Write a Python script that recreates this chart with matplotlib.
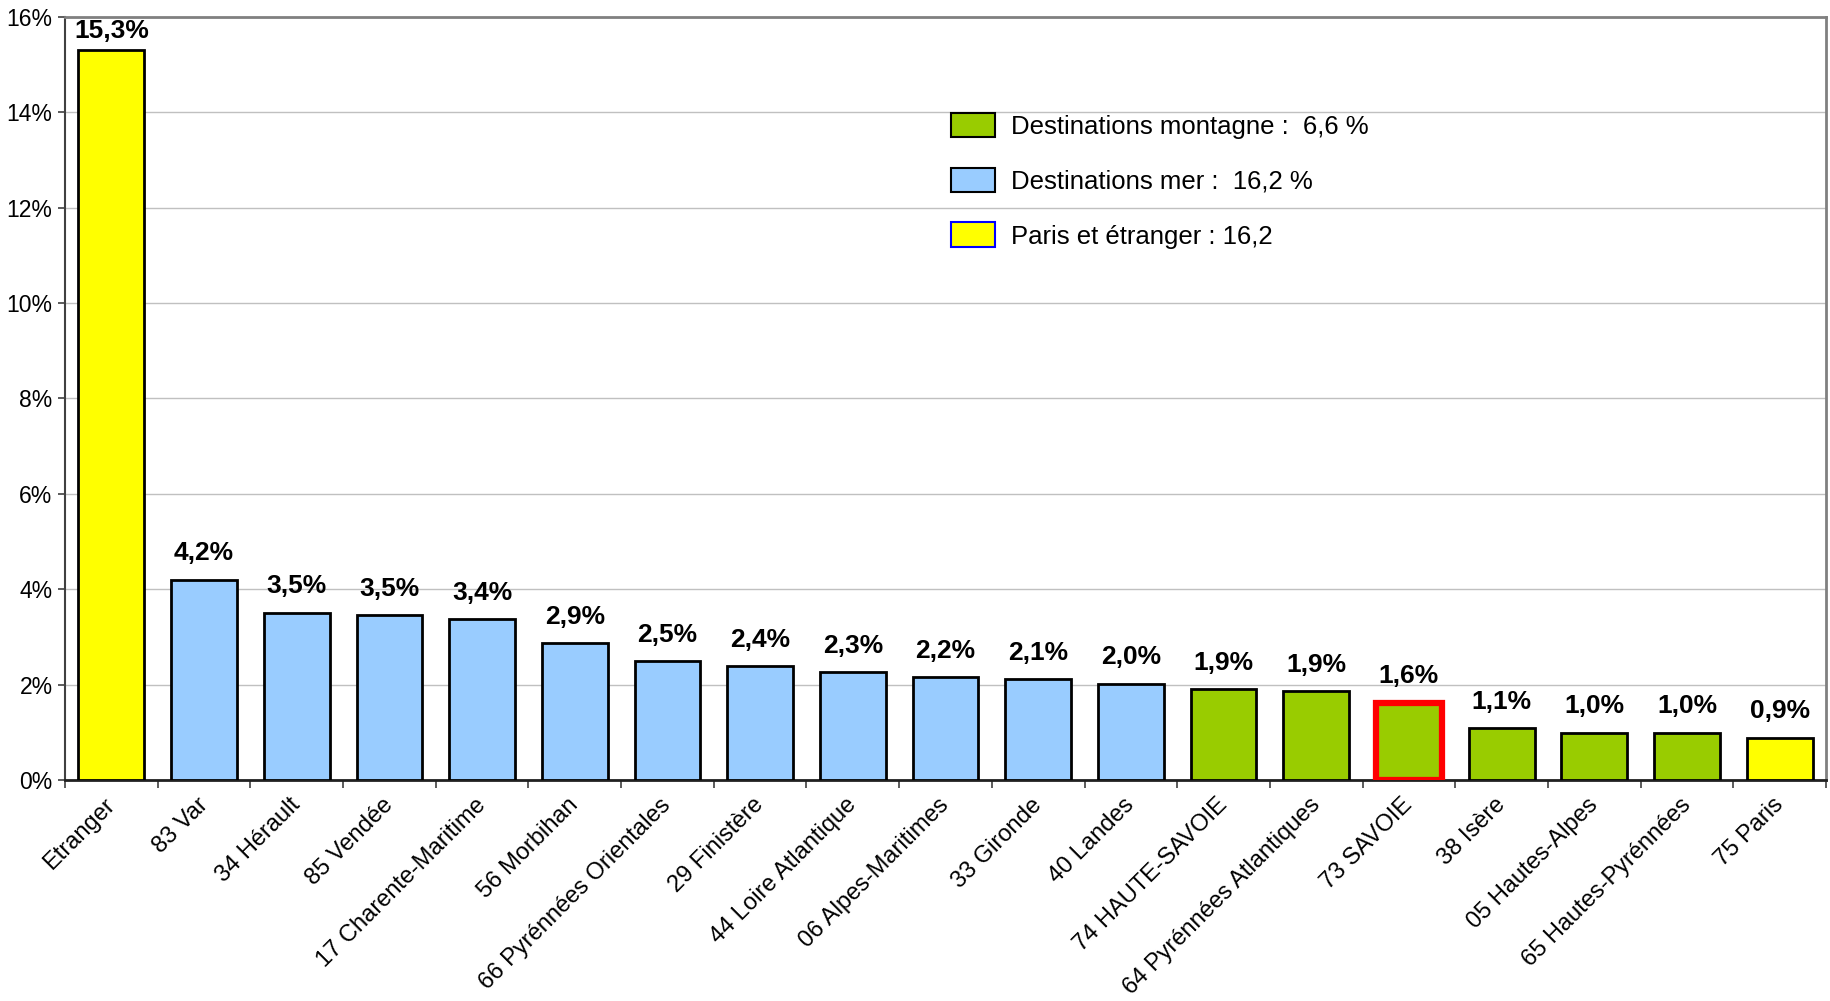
import matplotlib.pyplot as plt
from matplotlib.patches import Patch
from matplotlib.ticker import MultipleLocator, FuncFormatter

plt.rcParams['font.family'] = ['Liberation Sans', 'DejaVu Sans']

# destinations and share of trips (%)
destinations = ["Etranger", "83 Var", "34 Hérault", "85 Vendée", "17 Charente-Maritime",
                "56 Morbihan", "66 Pyrénnées Orientales", "29 Finistère", "44 Loire Atlantique",
                "06 Alpes-Maritimes", "33 Gironde", "40 Landes", "74 HAUTE-SAVOIE",
                "64 Pyrénnées Atlantiques", "73 SAVOIE", "38 Isère", "05 Hautes-Alpes",
                "65 Hautes-Pyrénnées", "75 Paris"]
shares = [15.3, 4.2, 3.51, 3.46, 3.37, 2.87, 2.49, 2.39, 2.26, 2.16, 2.11, 2.02,
          1.9, 1.86, 1.62, 1.08, 0.99, 0.99, 0.89]
groups = ["paris", "mer", "mer", "mer", "mer", "mer", "mer", "mer", "mer", "mer", "mer",
          "mer", "montagne", "montagne", "montagne", "montagne", "montagne", "montagne", "paris"]
highlight = "73 SAVOIE"

legend_labels = ["Destinations montagne :  6,6 %", "Destinations mer :  16,2 %",
                 "Paris et étranger : 16,2"]

colors = {"montagne": "#99CC00", "mer": "#99CCFF", "paris": "#FFFF00"}

fig = plt.figure(figsize=(18.31, 10.01), dpi=100)
ax = fig.add_axes([0.0355, 0.2208, 0.9618, 0.7622])

x = list(range(len(destinations)))
bars = ax.bar(x, shares, width=0.71, color=[colors[g] for g in groups],
              edgecolor="black", linewidth=2, zorder=3)
for b, name in zip(bars, destinations):
    if name == highlight:
        b.set_edgecolor("#FF0000")
        b.set_linewidth(4.5)

for xi, v in zip(x, shares):
    off = 0.3 if v < 15 else 0.15
    ax.text(xi, v + off, f"{v:.1f}%".replace(".", ","), ha="center", va="bottom",
            fontsize=19, fontweight="bold", zorder=4)

ax.set_xlim(-0.5, len(destinations) - 0.5)
ax.set_ylim(0, 16)
ax.yaxis.set_major_locator(MultipleLocator(2))
ax.yaxis.set_major_formatter(FuncFormatter(lambda v, p: f"{v:.0f}%"))
ax.grid(axis="y", color="#C0C0C0", linewidth=1, zorder=0)
ax.tick_params(axis="y", labelsize=16.5, length=5, width=1.2, color="#404040", pad=4)

# category boundary ticks, labels at centers
ax.set_xticks([i - 0.5 for i in range(len(destinations) + 1)])
ax.set_xticklabels([])
ax.set_xticks([i - 0.08 for i in x], minor=True)
ax.set_xticklabels(destinations, minor=True, rotation=45, ha="right", va="top",
                   rotation_mode="anchor", fontsize=17)
ax.tick_params(axis="x", which="major", length=6, width=1.2, color="#404040")
ax.tick_params(axis="x", which="minor", length=0, pad=10)

ax.spines["top"].set_color("#808080")
ax.spines["right"].set_color("#808080")
ax.spines["top"].set_linewidth(2)
ax.spines["right"].set_linewidth(2)
ax.spines["left"].set_color("#404040")
ax.spines["left"].set_linewidth(1.5)
ax.spines["bottom"].set_color("#202020")
ax.spines["bottom"].set_linewidth(2)

handles = [Patch(facecolor=colors["montagne"], edgecolor="black", linewidth=1.5),
           Patch(facecolor=colors["mer"], edgecolor="black", linewidth=1.5),
           Patch(facecolor=colors["paris"], edgecolor="#0000FF", linewidth=1.5)]
ax.legend(handles, legend_labels, loc="upper left", bbox_to_anchor=(0.497, 0.888),
          frameon=False, fontsize=18.5, handlelength=1.75, handleheight=1.1,
          handletextpad=0.6, labelspacing=1.12, borderaxespad=0)

fig.savefig("out.png", dpi=100)
